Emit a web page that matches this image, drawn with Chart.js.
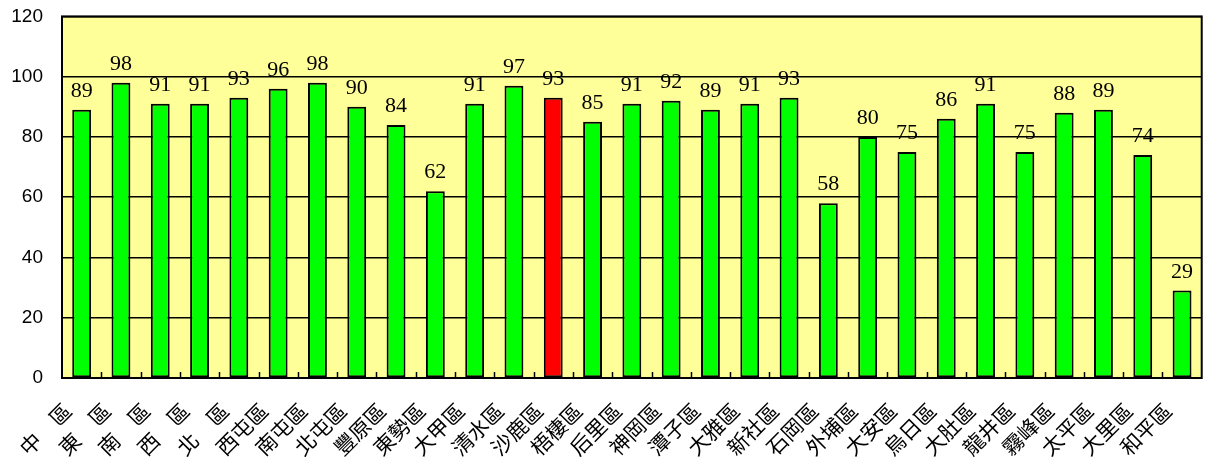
<!DOCTYPE html>
<html>
<head>
<meta charset="utf-8">
<script src="https://cdn.jsdelivr.net/npm/chart.js@4.4.1/dist/chart.umd.min.js"></script>
<style>
  html, body { margin: 0; padding: 0; background: #fff; }
</style>
</head>
<body>
<canvas id="c" width="1220" height="458"></canvas>
<script>
'use strict';
// ---------- data ----------
const districts = [
    '中　區', '東　區', '南　區', '西　區', '北　區', '西屯區', '南屯區', '北屯區',
    '豐原區', '東勢區', '大甲區', '清水區', '沙鹿區', '梧棲區', '后里區', '神岡區',
    '潭子區', '大雅區', '新社區', '石岡區', '外埔區', '大安區', '烏日區', '大肚區',
    '龍井區', '霧峰區', '太平區', '大里區', '和平區',
];
const scores = [
    89, 98, 91, 91, 93, 96, 98, 90, 84, 62, 91, 97, 93, 85, 91,
    92, 89, 91, 93, 58, 80, 75, 86, 91, 75, 88, 89, 74, 29,
];
const highlighted = '沙鹿區';
const yTicks = [0, 20, 40, 60, 80, 100, 120];

const barColors = districts.map(d => d === highlighted ? '#ff0000' : '#00ff00');

// Yellow plot background + frame
const plotBg = {
    id: 'plotBg',
    beforeDraw(chart) {
        const { ctx, chartArea: a } = chart;
        ctx.save();
        ctx.fillStyle = '#ffff99';
        ctx.fillRect(a.left, a.top, a.right - a.left, a.bottom - a.top);
        ctx.restore();
    },
    afterDraw(chart) {
        const { ctx, chartArea: a } = chart;
        ctx.save();
        ctx.strokeStyle = '#000';
        ctx.lineWidth = 2;
        ctx.strokeRect(a.left, a.top, a.right - a.left, a.bottom - a.top);
        ctx.restore();
    },
};

// Small inward tick marks between categories on the x axis
const innerTicks = {
    id: 'innerTicks',
    afterDatasetsDraw(chart) {
        const { ctx, scales: { x } } = chart;
        const half = (x.getPixelForValue(1) - x.getPixelForValue(0)) / 2;
        ctx.save();
        ctx.strokeStyle = '#000';
        ctx.lineWidth = 1.5;
        ctx.beginPath();
        for (let i = 1; i < districts.length; i++) {
            const px = Math.round(x.getPixelForValue(i) - half) + 0.5;
            ctx.moveTo(px, x.top);
            ctx.lineTo(px, x.top - 6);
        }
        ctx.stroke();
        ctx.restore();
    },
};

// Value labels above each bar
const valueLabels = {
    id: 'valueLabels',
    afterDatasetsDraw(chart) {
        const { ctx } = chart;
        const meta = chart.getDatasetMeta(0);
        ctx.save();
        ctx.font = '22px "Liberation Serif", serif';
        ctx.fillStyle = '#000';
        ctx.textAlign = 'center';
        ctx.textBaseline = 'alphabetic';
        meta.data.forEach((bar, i) => {
            ctx.fillText(String(scores[i]), bar.x, bar.y - 13);
        });
        ctx.restore();
    },
};

new Chart(document.getElementById('c'), {
    type: 'bar',
    data: {
        labels: districts,
        datasets: [{
            data: scores,
            backgroundColor: barColors,
            borderColor: '#000',
            borderWidth: 2,
            borderSkipped: false,
            barPercentage: 0.48,
            categoryPercentage: 1,
        }],
    },
    options: {
        responsive: false,
        animation: false,
        devicePixelRatio: 1,
        layout: { padding: { top: 0, right: 7, left: 0, bottom: 0 } },
        plugins: { legend: { display: false }, tooltip: { enabled: false } },
        scales: {
            x: {
                offset: true,
                grid: { display: false, drawTicks: false },
                border: { display: false },
                ticks: {
                    autoSkip: false,
                    maxRotation: 45,
                    minRotation: 45,
                    padding: 20,
                    labelOffset: -14,
                    color: '#000',
                    font: { family: '"Noto Sans CJK TC", sans-serif', size: 21 },
                },
                afterFit: s => { s.height = 80; },
            },
            y: {
                min: 0,
                max: 120,
                afterBuildTicks: s => { s.ticks = yTicks.map(v => ({ value: v })); },
                grid: { color: '#000', lineWidth: 1.5, drawTicks: true, tickLength: 14, tickColor: 'rgba(0,0,0,0)' },
                border: { display: false },
                ticks: {
                    padding: 5,
                    color: '#000',
                    font: { family: '"Liberation Sans", sans-serif', size: 19 },
                },
                afterFit: s => { s.width = 62; },
            },
        },
    },
    plugins: [plotBg, innerTicks, valueLabels],
});
</script>
</body>
</html>
